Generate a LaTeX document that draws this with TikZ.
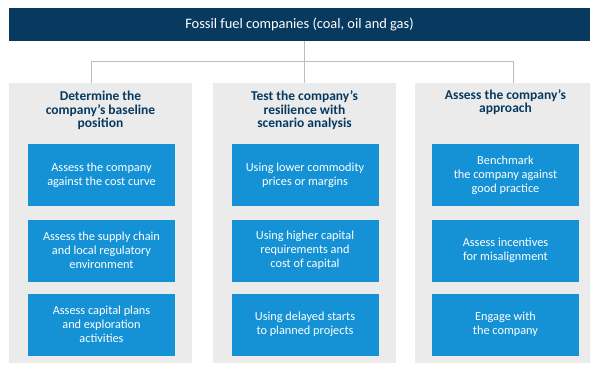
\documentclass[tikz,border=0pt]{standalone}
\usepackage{fontspec}
\setmainfont{Carlito}
\usetikzlibrary{positioning}

\definecolor{navy}{HTML}{083A60}
\definecolor{boxblue}{HTML}{1592D6}
\definecolor{panelgray}{HTML}{EBEBEB}
\definecolor{linegray}{HTML}{BDBDBD}

\begin{document}
\begin{tikzpicture}[x=1pt,y=-1pt,
	every node/.style={inner sep=0pt},
	panel/.style={fill=panelgray, minimum width=183, minimum height=280, anchor=north},
	task/.style={fill=boxblue, text=white, minimum width=147, minimum height=62, align=center, font=\fontsize{12.3}{14.2}\selectfont},
	head/.style={text=navy, align=center, font=\bfseries\fontsize{13.5}{13.6}\selectfont},
	link/.style={draw=linegray, line width=0.8pt}]
		\clip (0,0) rectangle (590,365);
		\fill[white] (0,0) rectangle (590,365);
		
		% title bar
		\node[fill=navy, text=white, minimum width=581, minimum height=33, font=\fontsize{14.4}{16}\selectfont] (bar) at (299.5,24.5) {Fossil fuel companies (coal, oil and gas)};
		
		% the three grey columns
		\node[panel] (col1) at (100.5,83) {};
		\node[panel] (col2) at (304.5,83) {};
		\node[panel] (col3) at (506.5,83) {};
		
		% connectors from the bar
		\coordinate (j1) at (91,61);
		\coordinate (j3) at (513,61);
		\draw[link] (bar.south -| col2.north) -- (col2.north);
		\draw[link] (col1.north -| j1) |- (j3) -- (col3.north -| j3);
		
		% column headings
		\node[head] (h1) at (100.5,110.5) {Determine the\\company's baseline\\position};
		\node[head] (h2) at (304.5,110.5) {Test the company's\\resilience with\\scenario analysis};
		\node[head] (h3) at (505.5,102) {Assess the company's\\approach};
		
		% blue steps
		\node[task] (a1) at (101.5,175) {Assess the company\\against the cost curve};
		\node[task] (a2) at (101.5,250.5) {Assess the supply chain\\and local regulatory\\environment};
		\node[task] (a3) at (101.5,324.5) {Assess capital plans\\and exploration\\activities};
		
		\node[task] (b1) at (305,175) {Using lower commodity\\prices or margins};
		\node[task] (b2) at (305,250.5) {Using higher capital\\requirements and\\cost of capital};
		\node[task] (b3) at (305,324.5) {Using delayed starts\\to planned projects};
		
		\node[task] (c1) at (505.5,175) {Benchmark\\the company against\\good practice};
		\node[task] (c2) at (505.5,250.5) {Assess incentives\\for misalignment};
		\node[task] (c3) at (505.5,324.5) {Engage with\\the company};
	\end{tikzpicture}
\end{document}
